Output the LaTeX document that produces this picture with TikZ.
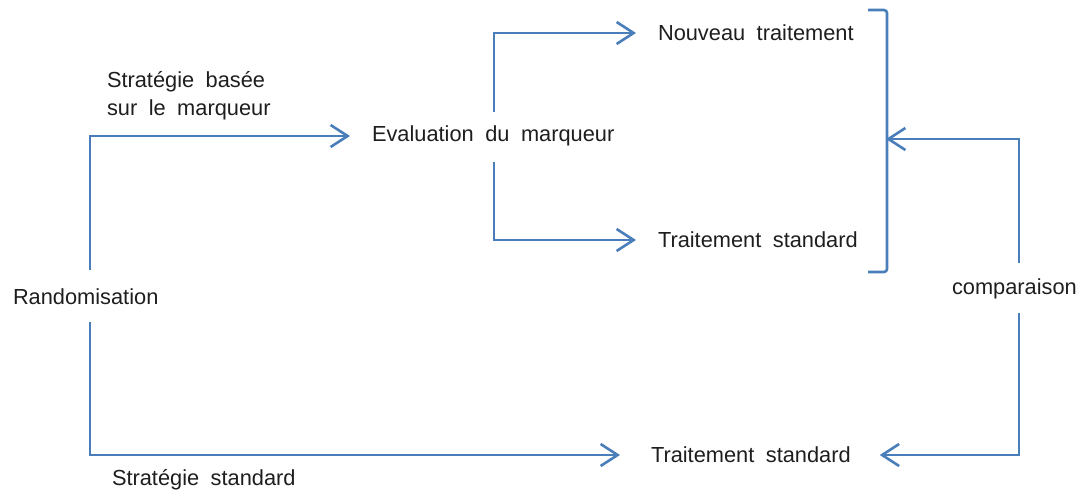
\documentclass[tikz,border=0pt]{standalone}
\usepackage{fontspec}
\setmainfont[WordSpace=1.9]{Liberation Sans}
\usetikzlibrary{arrows.meta}
\definecolor{lineblue}{HTML}{4A7EBB}
\definecolor{txt}{HTML}{1E1E1E}
\tikzset{
  lbl/.style={inner sep=0pt, outer sep=0pt, text=txt, font=\fontsize{21.8}{28}\selectfont, anchor=west},
  arr/.style={draw=lineblue, line width=2.6pt, -{Straight Barb[length=17pt,width=22pt,line width=2.6pt]}},
  ln/.style={draw=lineblue, line width=2.6pt}
}
\begin{document}
\begin{tikzpicture}[x=1pt,y=-1pt]
\useasboundingbox (0,0) rectangle (1083,495);
% nodes
\node[lbl] (rand) at (13,297) {Randomisation};
\node[lbl] (eval) at (372,136) {Evaluation du marqueur};
\node[lbl] (nt) at (658,33) {Nouveau traitement};
\node[lbl] (ts1) at (658,240) {Traitement standard};
\node[lbl] (ts2) at (651,455) {Traitement standard};
\node[lbl, align=left] (sbm) at (107,96) {Stratégie basée\\sur le marqueur};
\node[lbl] (ss) at (112,480) {Stratégie standard};
\node[lbl] (comp) at (952,289) {comparaison};
% coordinates
\coordinate (r1) at (90,270);
\coordinate (r2) at (90,322);
\coordinate (e1) at (494,112);
\coordinate (e2) at (494,162);
\coordinate (b1) at (868,10);
\coordinate (b2) at (887,10);
\coordinate (b3) at (887,272);
\coordinate (b4) at (868,272);
\coordinate (bm) at (887,139);
\coordinate (c1) at (1019,263);
\coordinate (c2) at (1019,313);
% connectors
\draw[arr, shorten >=-2pt] (r1) |- ([xshift=-24pt]eval.west);
\draw[arr] (r2) |- ([xshift=-31pt]ts2.west);
\draw[arr] (e1) |- ([xshift=-22pt]nt.west);
\draw[arr] (e2) |- ([xshift=-22pt]ts1.west);
\draw[ln, rounded corners=3pt] (b1) -- (b2) -- (b3) -- (b4);
\draw[arr, shorten >=-1pt] (c1) |- (bm);
\draw[arr] (c2) |- ([xshift=29pt]ts2.east);
\end{tikzpicture}
\end{document}
